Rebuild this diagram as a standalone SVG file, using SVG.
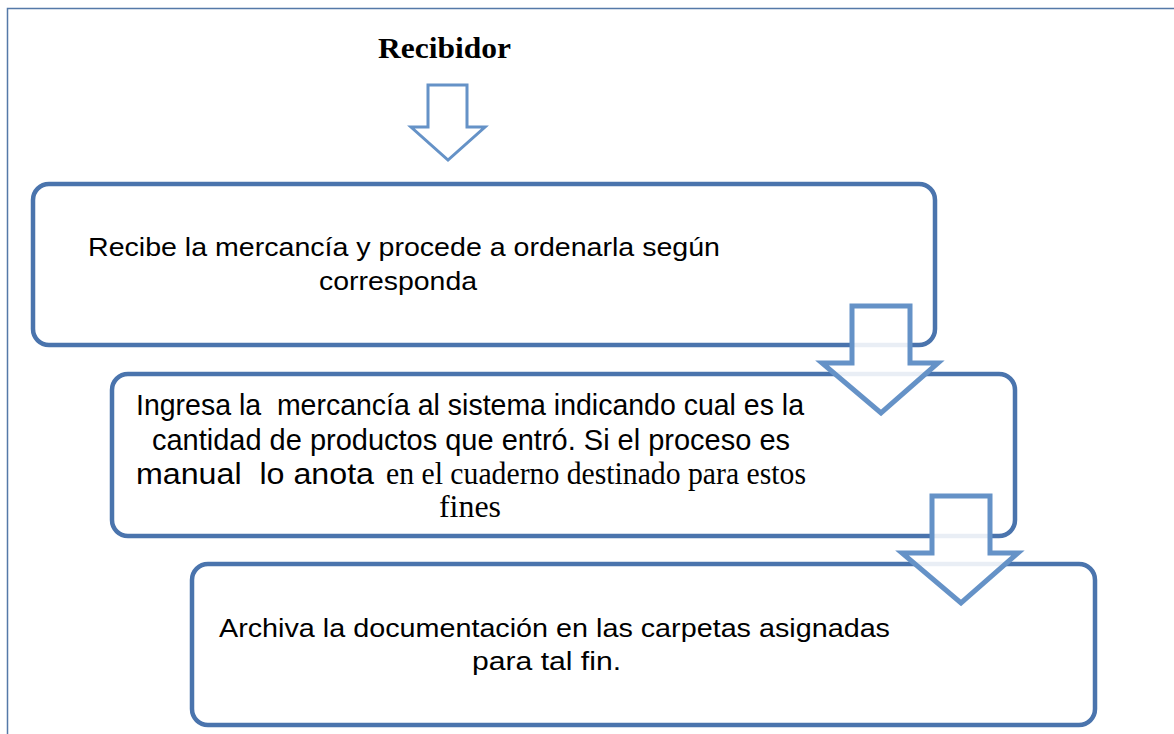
<svg xmlns="http://www.w3.org/2000/svg" width="1174" height="734" viewBox="0 0 1174 734">
<style>
.box{fill:#ffffff;stroke:#4a74ad;stroke-width:4.5}
.arrow{fill:#ffffff;fill-opacity:0.88;stroke:#6592c7;stroke-linejoin:miter}
.sans{font-family:"Liberation Sans","Open Sans",Arial,sans-serif;fill:#000;white-space:pre}
.serif{font-family:"Liberation Serif","Times New Roman",serif;fill:#000;white-space:pre}
</style>
<rect width="1174" height="734" fill="#ffffff"/>
<path d="M7.5,734 V8.5 H1174" fill="none" stroke="#5579a8" stroke-width="1.5"/>
<g id="title">
<text class="serif" x="378" y="58" font-size="30" font-weight="bold" textLength="133" lengthAdjust="spacingAndGlyphs">Recibidor</text>
</g>
<g id="box1">
<rect class="box" x="33" y="184" width="902" height="161" rx="16"/>
<text class="sans" x="88" y="256" font-size="25" textLength="632" lengthAdjust="spacingAndGlyphs">Recibe la mercancía y procede a ordenarla según</text>
<text class="sans" x="319" y="290" font-size="25" textLength="158" lengthAdjust="spacingAndGlyphs">corresponda</text>
</g>
<g id="box2">
<rect class="box" x="112" y="374" width="903" height="162" rx="16"/>
<text class="sans" x="136" y="415" font-size="30" textLength="668" lengthAdjust="spacingAndGlyphs" xml:space="preserve">Ingresa la  mercancía al sistema indicando cual es la</text>
<text class="sans" x="152" y="450" font-size="30" textLength="638" lengthAdjust="spacingAndGlyphs">cantidad de productos que entró. Si el proceso es</text>
<text class="sans" x="136" y="484" font-size="30" textLength="238" lengthAdjust="spacingAndGlyphs" xml:space="preserve">manual  lo anota</text>
<text class="serif" x="386" y="484" font-size="32" textLength="420" lengthAdjust="spacingAndGlyphs">en el cuaderno destinado para estos</text>
<text class="serif" x="439" y="517" font-size="32" textLength="62" lengthAdjust="spacingAndGlyphs">fines</text>
</g>
<g id="box3">
<rect class="box" x="192" y="564" width="903" height="161" rx="16"/>
<text class="sans" x="219" y="637" font-size="25" textLength="671" lengthAdjust="spacingAndGlyphs">Archiva la documentación en las carpetas asignadas</text>
<text class="sans" x="472" y="670" font-size="25" textLength="149" lengthAdjust="spacingAndGlyphs">para tal fin.</text>
</g>
<g id="connectors">
<path class="arrow" id="arrow1" d="M428,85 H467 V127 H485 L448,160 L411,127 H428 Z" fill="#f8f8f8" stroke-width="3"/>
<path class="arrow" id="arrow2" d="M852,306 H910 V363 H938 L881,413 L822,363 H852 Z" stroke-width="5"/>
<path class="arrow" id="arrow3" d="M932,496 H990 V553 H1018 L961,603 L902,553 H932 Z" stroke-width="5"/>
</g>
</svg>
